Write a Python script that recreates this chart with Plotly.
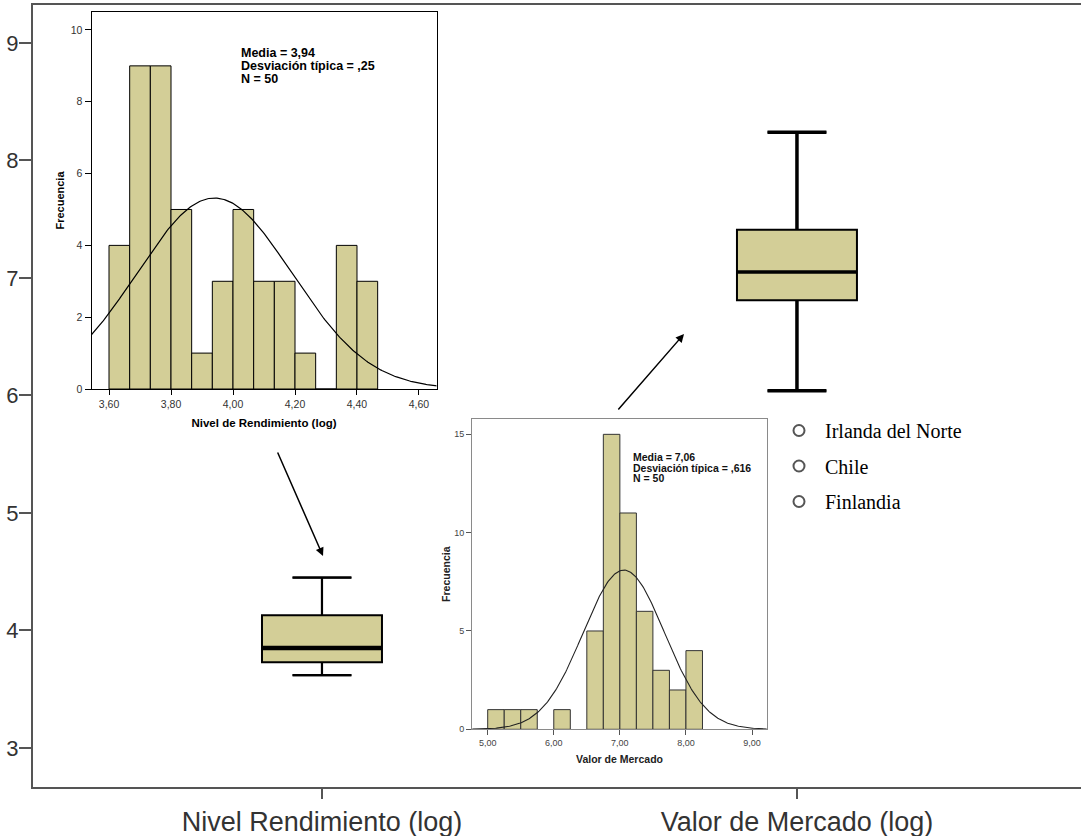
import numpy as np
import plotly.graph_objects as go

W, H = 1081, 836

# ---- main box plot data (log scale values) ----
variables = ["Nivel Rendimiento (log)", "Valor de Mercado (log)"]
box_lower = [3.62, 6.04]
box_q1 = [3.73, 6.81]
box_median = [3.85, 7.05]
box_q3 = [4.13, 7.41]
box_upper = [4.45, 8.24]

country_labels = ["Irlanda del Norte", "Chile", "Finlandia"]

# ---- histogram 1: Nivel de Rendimiento (log) ----
h1_start = 3.60
h1_width = 1 / 15
h1_counts = [4, 9, 9, 5, 1, 3, 5, 3, 3, 1, 0, 4, 3]
h1_mean, h1_sd, h1_n = 3.94, 0.25, 50

# ---- histogram 2: Valor de Mercado ----
h2_start = 5.00
h2_width = 0.25
h2_counts = [1, 1, 1, 0, 1, 0, 5, 15, 11, 6, 3, 2, 4]
h2_mean, h2_sd, h2_n = 7.06, 0.616, 50

FILL = "#D3CE97"
SANS = "Liberation Sans, Arial, sans-serif"


def px_x(p):
    return p / W


def px_y(p):
    return 1 - p / H


def normal_curve(lo, hi, mean, sd, n, width):
    xs = np.linspace(lo, hi, 300)
    ys = n * width / (sd * np.sqrt(2 * np.pi)) * np.exp(-0.5 * ((xs - mean) / sd) ** 2)
    return xs, ys


fig = go.Figure()

# ---- box plots ----
BOX_W = 0.2526
CAP_HALF = 0.062
WHISKER_LW = [2.2, 3.5]
MEDIAN_LW = [4.5, 3.5]
for i, name in enumerate(variables):
    fig.add_trace(go.Box(
        x=[i], q1=[box_q1[i]], median=[box_median[i]], q3=[box_q3[i]],
        lowerfence=[box_lower[i]], upperfence=[box_upper[i]],
        width=BOX_W, whiskerwidth=0.49, fillcolor=FILL,
        line=dict(color="black", width=2), boxpoints=False,
        name=name, showlegend=False, hoverinfo="skip",
        xaxis="x", yaxis="y",
    ))
    # heavier whiskers and caps
    fig.add_trace(go.Scatter(
        x=[i, i, None, i - CAP_HALF, i + CAP_HALF, None, i, i, None, i - CAP_HALF, i + CAP_HALF],
        y=[box_q3[i], box_upper[i], None, box_upper[i], box_upper[i], None,
           box_q1[i], box_lower[i], None, box_lower[i], box_lower[i]],
        mode="lines", line=dict(color="black", width=WHISKER_LW[i]),
        showlegend=False, hoverinfo="skip", xaxis="x", yaxis="y",
    ))
    # thick median bar
    fig.add_trace(go.Scatter(
        x=[i - BOX_W / 2, i + BOX_W / 2],
        y=[box_median[i], box_median[i]],
        mode="lines", line=dict(color="black", width=MEDIAN_LW[i]),
        showlegend=False, hoverinfo="skip", xaxis="x", yaxis="y",
    ))

# ---- legend entries ----
for j, lab in enumerate(country_labels):
    fig.add_trace(go.Scatter(
        x=[None], y=[None], mode="markers", name=lab, legendgroup=f"g{j}",
        marker=dict(symbol="circle-open", size=11, color="#555555",
                    line=dict(width=2, color="#555555")),
        xaxis="x", yaxis="y",
    ))

# ---- histogram 1 ----
h1_centers = [h1_start + (k + 0.5) * h1_width for k in range(len(h1_counts))]
fig.add_trace(go.Bar(
    x=h1_centers, y=h1_counts, width=h1_width,
    marker=dict(color=FILL, line=dict(color="black", width=1)),
    showlegend=False, hoverinfo="skip", xaxis="x2", yaxis="y2",
))
cx1, cy1 = normal_curve(3.54, 4.66, h1_mean, h1_sd, h1_n, h1_width)
fig.add_trace(go.Scatter(
    x=cx1, y=cy1, mode="lines", line=dict(color="black", width=1.2),
    showlegend=False, hoverinfo="skip", xaxis="x2", yaxis="y2",
))

# ---- histogram 2 ----
h2_centers = [h2_start + (k + 0.5) * h2_width for k in range(len(h2_counts))]
fig.add_trace(go.Bar(
    x=h2_centers, y=[c if c > 0 else None for c in h2_counts], width=h2_width,
    marker=dict(color=FILL, line=dict(color="#333333", width=1)),
    showlegend=False, hoverinfo="skip", xaxis="x3", yaxis="y3",
))
cx2, cy2 = normal_curve(4.76, 9.23, h2_mean, h2_sd, h2_n, h2_width)
fig.add_trace(go.Scatter(
    x=cx2, y=cy2, mode="lines", line=dict(color="#222222", width=1.1),
    showlegend=False, hoverinfo="skip", xaxis="x3", yaxis="y3",
))

AX_MAIN = "#555555"

layout = dict(
    width=W, height=H,
    margin=dict(l=0, r=0, t=0, b=0),
    paper_bgcolor="white", plot_bgcolor="rgba(0,0,0,0)",
    separators=",.",
    showlegend=True,
    legend=dict(
        x=px_x(773), y=px_y(411), xanchor="left", yanchor="top",
        font=dict(family="Liberation Serif, Times New Roman, serif", size=20, color="black"),
        bgcolor="rgba(0,0,0,0)", tracegroupgap=6.5, itemclick=False, itemwidth=42,
    ),
    # main axes
    xaxis=dict(
        domain=[px_x(33), 1], range=[-0.6084, 1.598],
        tickvals=[0, 1], ticktext=variables,
        ticks="outside", ticklen=10, tickwidth=2, tickcolor=AX_MAIN,
        showline=True, linecolor=AX_MAIN, linewidth=2, mirror=True,
        showgrid=False, zeroline=False, automargin=False,
        tickfont=dict(family=SANS, size=27, color="#333333"),
    ),
    yaxis=dict(
        domain=[px_y(787), px_y(5)], range=[2.668, 9.323],
        tickvals=[3, 4, 5, 6, 7, 8, 9],
        ticks="outside", ticklen=12, tickwidth=2, tickcolor=AX_MAIN,
        ticklabelstandoff=-4,
        showline=True, linecolor=AX_MAIN, linewidth=2,
        showgrid=False, zeroline=False, automargin=False,
        tickfont=dict(family=SANS, size=22, color="#333333"),
    ),
    # histogram 1 axes
    xaxis2=dict(
        domain=[px_x(91.5), px_x(436.5)], range=[3.5435, 4.6565], anchor="y2",
        tickvals=[3.6, 3.8, 4.0, 4.2, 4.4, 4.6], tickformat=".2f",
        ticks="outside", ticklen=5, tickwidth=1, tickcolor="black",
        showline=True, linecolor="black", linewidth=1, mirror=True,
        showgrid=False, zeroline=False, automargin=False,
        tickfont=dict(family=SANS, size=10.5, color="#333333"),
        title=dict(text="<b>Nivel de Rendimiento (log)</b>", standoff=10,
                   font=dict(family=SANS, size=11.5, color="black")),
    ),
    yaxis2=dict(
        domain=[px_y(389), px_y(12)], range=[0, 10.5], anchor="x2",
        tickvals=[0, 2, 4, 6, 8, 10],
        ticks="outside", ticklen=6, tickwidth=1, tickcolor="black",
        showline=True, linecolor="black", linewidth=1, mirror=True,
        showgrid=False, zeroline=False, automargin=False,
        tickfont=dict(family=SANS, size=10.5, color="#333333"),
        title=dict(text="<b>Frecuencia</b>", standoff=3,
                   font=dict(family=SANS, size=11, color="black")),
    ),
    # histogram 2 axes
    xaxis3=dict(
        domain=[px_x(472.3), px_x(766.7)], range=[4.767, 9.222], anchor="y3",
        tickvals=[5, 6, 7, 8, 9], tickformat=".2f",
        ticks="outside", ticklen=5, tickwidth=1, tickcolor="#555555",
        showline=True, linecolor="#8a8a8a", linewidth=1.3, mirror=True,
        showgrid=False, zeroline=False, automargin=False,
        tickfont=dict(family=SANS, size=9, color="#444444"),
        title=dict(text="<b>Valor de Mercado</b>", standoff=8,
                   font=dict(family=SANS, size=10.5, color="#222222")),
    ),
    yaxis3=dict(
        domain=[px_y(729.3), px_y(419)], range=[0, 15.78], anchor="x3",
        tickvals=[0, 5, 10, 15],
        ticks="outside", ticklen=5, tickwidth=1, tickcolor="#555555",
        showline=True, linecolor="#8a8a8a", linewidth=1.3, mirror=True,
        showgrid=False, zeroline=False, automargin=False,
        tickfont=dict(family=SANS, size=9, color="#444444"),
        title=dict(text="<b>Frecuencia</b>", standoff=1,
                   font=dict(family=SANS, size=10.5, color="#222222")),
    ),
)

annotations = []
# statistics boxes
for k, line in enumerate([f"Media = {h1_mean:.2f}".replace(".", ","),
                          f"Desviación típica = ,{round(h1_sd * 100):d}",
                          f"N = {h1_n}"]):
    annotations.append(dict(
        text=f"<b>{line}</b>", xref="paper", yref="paper",
        x=px_x(238.5), y=px_y(52.5 + 13 * k), xanchor="left", yanchor="middle",
        showarrow=False, font=dict(family=SANS, size=12.5, color="black"),
    ))
for k, line in enumerate([f"Media = {h2_mean:.2f}".replace(".", ","),
                          f"Desviación típica = ,{round(h2_sd * 1000):d}",
                          f"N = {h2_n}"]):
    annotations.append(dict(
        text=f"<b>{line}</b>", xref="paper", yref="paper",
        x=px_x(630.5), y=px_y(456.7 + 10.8 * k), xanchor="left", yanchor="middle",
        showarrow=False, font=dict(family=SANS, size=10.5, color="#111111"),
    ))
# arrows linking each histogram to its box
annotations.append(dict(
    x=px_x(323), y=px_y(556), xref="paper", yref="paper",
    ax=277 - 323, ay=451 - 556, axref="pixel", ayref="pixel",
    showarrow=True, arrowhead=2, arrowsize=1.1, arrowwidth=1.5, arrowcolor="black", text="",
))
annotations.append(dict(
    x=px_x(684), y=px_y(334), xref="paper", yref="paper",
    ax=617 - 684, ay=411 - 334, axref="pixel", ayref="pixel",
    showarrow=True, arrowhead=2, arrowsize=1.1, arrowwidth=1.5, arrowcolor="black", text="",
))
layout["annotations"] = annotations

fig.update_layout(**layout)
fig.write_html("out.html")
